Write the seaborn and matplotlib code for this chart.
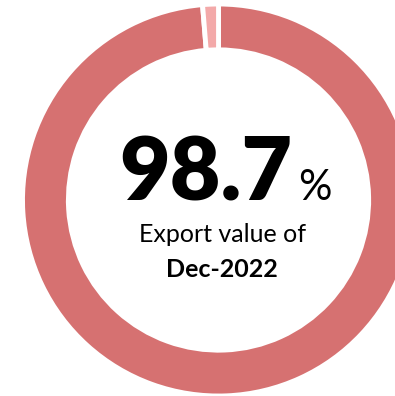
import matplotlib
matplotlib.use("Agg")
import matplotlib.pyplot as plt
import seaborn as sns

# data
labels = ["Dec-2022", "Other"]
shares = [98.7, 1.3]
colors = ["#D67171", "#F3A9A9"]
headline = "98.7"
caption = "Export value of"
period = "Dec-2022"

sns.set_theme(style="white")
plt.rcParams["font.family"] = ["Lato", "DejaVu Sans"]

fig = plt.figure(figsize=(3.95, 3.96), dpi=100)
ax = fig.add_axes([0, 0, 1, 1])

ax.pie(shares, colors=colors, startangle=90, counterclock=False,
       radius=1.005, wedgeprops=dict(width=0.235, edgecolor="white", linewidth=3.5))

# center text
ax.text(0.379, 0.0, headline, ha="right", va="baseline",
        fontsize=63, fontweight="heavy", color="black")
ax.text(0.408, 0.0, "%", ha="left", va="baseline",
        fontsize=30, color="black")
ax.text(0.018, -0.215, caption, ha="center", va="baseline",
        fontsize=18, color="black")
ax.text(0.015, -0.395, period, ha="center", va="baseline",
        fontsize=18, fontweight="bold", color="black")

ax.set_xlim(-1.1205, 0.905)
ax.set_ylim(-1.005, 1.0256)
ax.set_aspect("equal")
ax.axis("off")

plt.savefig("out.png", dpi=100)
